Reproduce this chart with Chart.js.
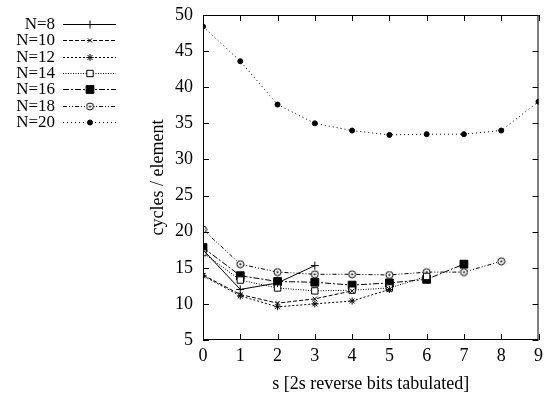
<!DOCTYPE html>
<html>
<head>
<meta charset="utf-8">
<script src="https://cdn.jsdelivr.net/npm/chart.js@4/dist/chart.umd.min.js"></script>
<style>
  html, body { margin: 0; padding: 0; background: #fff; }
  #wrap { width: 548px; height: 398px; }
</style>
</head>
<body>
<div id="wrap"><canvas id="chart" width="548" height="398"></canvas></div>
<script>
// s values along the x axis
const sValues = [0, 1, 2, 3, 4, 5, 6, 7, 8, 9];
const seriesNames = ["N=8", "N=10", "N=12", "N=14", "N=16", "N=18", "N=20"];

// cycles / element, one list per N
const n8 = [17.5, 12.0, 12.9, 15.3];
const n10 = [14.0, 11.3, 10.1, 10.7, 11.8];
const n12 = [13.9, 11.1, 9.6, 10.0, 10.4, 12.0];
const n14 = [17.1, 13.3, 12.2, 11.8, 11.9, 12.2, 13.8];
const n16 = [17.8, 13.9, 13.1, 13.0, 12.6, 12.9, 13.4, 15.5];
const n18 = [20.3, 15.5, 14.4, 14.1, 14.1, 14.0, 14.4, 14.4, 15.9];
const n20 = [48.4, 43.6, 37.6, 35.0, 34.0, 33.4, 33.5, 33.5, 34.0, 38.0];

const yTicks = [5, 10, 15, 20, 25, 30, 35, 40, 45, 50];

const FONT = "'Liberation Serif', 'Times New Roman', serif";
const FSIZE = 18;

// circle with a dot in the middle, like gnuplot's point type for N=18
function dotCircle() {
  const c = document.createElement("canvas");
  c.width = 9; c.height = 9;
  const g = c.getContext("2d");
  g.fillStyle = "#fff";
  g.strokeStyle = "#000";
  g.lineWidth = 1;
  g.beginPath(); g.arc(4.5, 4.5, 3.5, 0, Math.PI * 2); g.fill(); g.stroke();
  g.fillStyle = "#000";
  g.beginPath(); g.arc(4.5, 4.5, 1.1, 0, Math.PI * 2); g.fill();
  return c;
}

function pts(values) {
  return values.map((v, i) => ({ x: sValues[i], y: v }));
}

function makeSet(label, values, dash, pointStyle, radius, filled) {
  return {
    label: label,
    data: pts(values),
    borderColor: "#000",
    borderWidth: 1,
    borderDash: dash,
    pointStyle: pointStyle,
    pointRadius: radius,
    pointHoverRadius: radius,
    pointBorderColor: "#000",
    pointBorderWidth: 1,
    pointBackgroundColor: filled ? "#000" : "#fff",
    fill: false,
    tension: 0
  };
}

const datasets = [
  makeSet(seriesNames[0], n8, [], "cross", 4, false),
  makeSet(seriesNames[1], n10, [4, 2], "crossRot", 3, false),
  makeSet(seriesNames[2], n12, [2, 2], "star", 3.5, false),
  makeSet(seriesNames[3], n14, [1, 1.5], "rect", 4.5, false),
  makeSet(seriesNames[4], n16, [6, 2, 2, 2], "rect", 5.5, true),
  makeSet(seriesNames[5], n18, [4, 2, 1, 2, 1, 2], dotCircle(), 4, false),
  makeSet(seriesNames[6], n20, [1, 3], "circle", 2.5, true)
];

// gnuplot-like frame, inward ticks and left-hand key
const framePlugin = {
  id: "frame",
  afterDatasetsDraw(chart) {
    const { ctx, chartArea: a, scales } = chart;
    ctx.save();
    ctx.strokeStyle = "#000";
    ctx.lineWidth = 1;
    ctx.setLineDash([]);
    ctx.strokeRect(a.left + 0.5, a.top + 0.5, a.right - a.left - 1, a.bottom - a.top - 1);
    ctx.beginPath();
    yTicks.forEach(t => {
      const y = Math.round(scales.y.getPixelForValue(t)) + 0.5;
      ctx.moveTo(a.left, y); ctx.lineTo(a.left + 6, y);
      ctx.moveTo(a.right, y); ctx.lineTo(a.right - 6, y);
    });
    sValues.forEach(t => {
      const x = Math.round(scales.x.getPixelForValue(t)) + 0.5;
      ctx.moveTo(x, a.bottom); ctx.lineTo(x, a.bottom - 6);
      ctx.moveTo(x, a.top); ctx.lineTo(x, a.top + 6);
    });
    ctx.stroke();

    // key
    ctx.font = "17px " + FONT;
    ctx.textAlign = "right";
    ctx.textBaseline = "middle";
    chart.data.datasets.forEach((ds, i) => {
      const y = Math.round(24 + i * 16.3) + 0.5;
      ctx.fillStyle = "#000";
      ctx.strokeStyle = "#000";
      ctx.fillText(ds.label, 55, y);
      ctx.beginPath();
      ctx.setLineDash(ds.borderDash);
      ctx.moveTo(63, y);
      ctx.lineTo(116, y);
      ctx.stroke();
      ctx.setLineDash([]);
      ctx.fillStyle = ds.pointBackgroundColor;
      Chart.helpers.drawPoint(ctx, {
        pointStyle: ds.pointStyle,
        radius: ds.pointRadius,
        rotation: 0,
        borderWidth: 1
      }, 90, y);
    });
    ctx.restore();
  }
};

new Chart(document.getElementById("chart"), {
  type: "line",
  data: { datasets: datasets },
  options: {
    responsive: false,
    animation: false,
    layout: { padding: { left: 143, right: 8, top: 15, bottom: 0 } },
    plugins: {
      legend: { display: false },
      tooltip: { enabled: false }
    },
    scales: {
      x: {
        type: "linear",
        min: 0,
        max: 9,
        afterFit: scale => { scale.height = 58; },
        grid: { display: false, drawTicks: false },
        border: { display: false },
        ticks: {
          stepSize: 1,
          padding: 5,
          color: "#000",
          font: { family: FONT, size: FSIZE }
        },
        title: {
          display: true,
          text: "s [2s reverse bits tabulated]",
          color: "#000",
          font: { family: FONT, size: FSIZE },
          padding: { top: 0, bottom: 3 }
        }
      },
      y: {
        min: 5,
        max: 50,
        afterFit: scale => {
          scale.width = 60;
          scale.paddingTop = 0;
          scale.paddingBottom = 0;
        },
        grid: { display: false, drawTicks: false },
        border: { display: false },
        ticks: {
          stepSize: 5,
          padding: 10,
          color: "#000",
          font: { family: FONT, size: FSIZE }
        },
        title: {
          display: true,
          text: "cycles / element",
          color: "#000",
          font: { family: FONT, size: FSIZE },
          padding: { top: 4, bottom: 4 }
        }
      }
    }
  },
  plugins: [framePlugin]
});
</script>
</body>
</html>
